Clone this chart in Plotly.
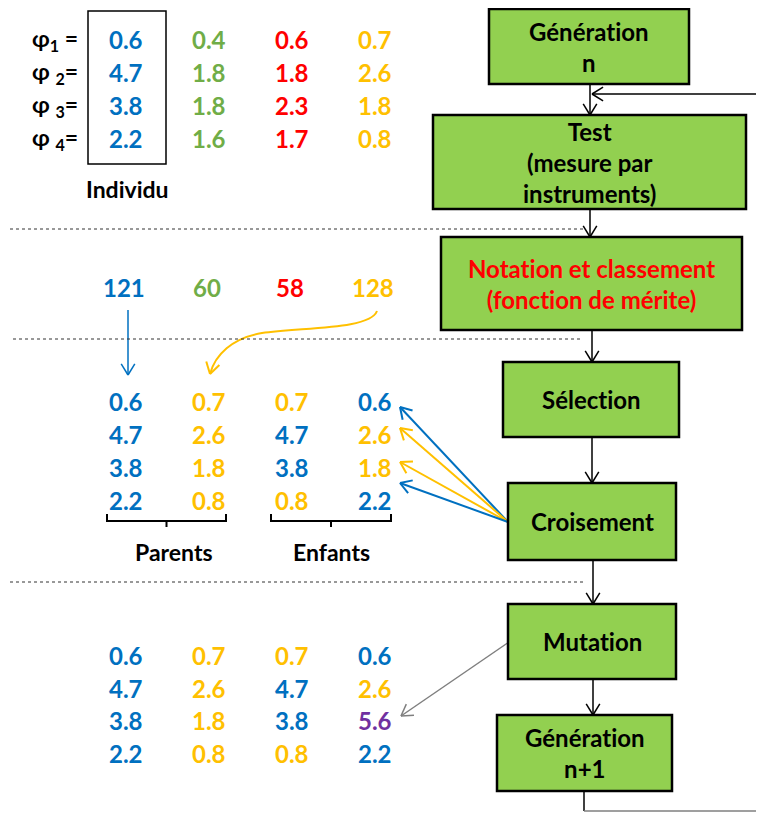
import math
import plotly.graph_objects as go

BLUE   = "#0070C0"
GREEN  = "#70AD47"
RED    = "#FF0000"
YELLOW = "#FFC000"
PURPLE = "#7030A0"
BOX    = "#92D050"
BLACK  = "#000000"
GREY   = "#7F7F7F"
FONT   = "Lato, 'Open Sans', sans-serif"
ZWNJ   = "\u200c"   # stops Lato from joining "ti"

# ── data ──────────────────────────────────────────────────────────────────────
phi_labels = ["φ<sub>1</sub> =", "φ <sub>2</sub>=", "φ <sub>3</sub>=", "φ <sub>4</sub>="]
individus = [
    [0.6, 4.7, 3.8, 2.2],
    [0.4, 1.8, 1.8, 1.6],
    [0.6, 1.8, 2.3, 1.7],
    [0.7, 2.6, 1.8, 0.8],
]
individu_colors = [BLUE, GREEN, RED, YELLOW]
scores = [121, 60, 58, 128]

croisement = [
    [0.6, 4.7, 3.8, 2.2],
    [0.7, 2.6, 1.8, 0.8],
    [0.7, 4.7, 3.8, 0.8],
    [0.6, 2.6, 1.8, 2.2],
]
croisement_colors = [
    [BLUE, BLUE, BLUE, BLUE],
    [YELLOW, YELLOW, YELLOW, YELLOW],
    [YELLOW, BLUE, BLUE, YELLOW],
    [BLUE, YELLOW, YELLOW, BLUE],
]
mutation = [
    [0.6, 4.7, 3.8, 2.2],
    [0.7, 2.6, 1.8, 0.8],
    [0.7, 4.7, 3.8, 0.8],
    [0.6, 2.6, 5.6, 2.2],
]
mutation_colors = [
    [BLUE, BLUE, BLUE, BLUE],
    [YELLOW, YELLOW, YELLOW, YELLOW],
    [YELLOW, BLUE, BLUE, YELLOW],
    [BLUE, YELLOW, PURPLE, BLUE],
]

steps = ["Génération<br>n", "Test<br>(mesure par<br>instruments)",
         "Notation et classement<br>(fonction de mérite)",
         "Sélection", "Croisement", "Mutation", "Génération<br>n+1"]
step_colors = [BLACK, BLACK, RED, BLACK, BLACK, BLACK, BLACK]

# ── layout positions (pixels, y downwards) ───────────────────────────────────
COLS = [126, 209, 292, 375]
ROWS_TOP = [39, 72, 105, 138]
ROWS_MID = [401, 434, 467, 500]
ROWS_BOT = [655, 688, 720, 753]
STEP_BOXES = [(489, 9, 689, 84), (433, 115, 746, 209), (441, 237, 742, 330),
              (503, 362, 679, 437), (508, 483, 676, 560), (508, 604, 676, 679),
              (497, 715, 672, 791)]

fig = go.Figure()


def text(x, y, s, color=BLACK, size=24, anchor="center"):
    fig.add_annotation(x=x, y=y, text=s.replace("ti", "t" + ZWNJ + "i"),
                       showarrow=False, xanchor=anchor, yanchor="middle",
                       font=dict(family=FONT, size=size, color=color, weight="bold"))


def line(x0, y0, x1, y1, color=BLACK, width=1.5, dash=None):
    fig.add_shape(type="line", x0=x0, y0=y0, x1=x1, y1=y1,
                  line=dict(color=color, width=width, dash=dash))


def head(x1, y1, dx, dy, color, width, size=13, spread=0.55):
    ang = math.atan2(dy, dx)
    for s in (-spread, spread):
        a = ang + math.pi + s
        line(x1, y1, x1 + size * math.cos(a), y1 + size * math.sin(a), color, width)


def arrow(x0, y0, x1, y1, color=BLACK, width=1.5, size=13):
    line(x0, y0, x1, y1, color, width)
    head(x1, y1, x1 - x0, y1 - y0, color, width, size)


def column(values, colors, x, rows):
    for v, c, y in zip(values, colors, rows):
        text(x, y, f"{v:.1f}", c)


# ── top: population ──────────────────────────────────────────────────────────
for lab, y in zip(phi_labels, ROWS_TOP):
    text(80, y, lab, BLACK, 23, "right")
for vals, c, x in zip(individus, individu_colors, COLS):
    column(vals, [c] * 4, x, ROWS_TOP)
fig.add_shape(type="rect", x0=88, y0=11, x1=166, y1=164, line=dict(color=BLACK, width=1.5))
text(127, 189, "Individu", BLACK, 23)

line(10, 229, 583, 229, "#333333", 1, "dot")

# ── scores ───────────────────────────────────────────────────────────────────
for s, c, x in zip(scores, individu_colors, COLS):
    text(x - 2, 287, str(s), c, 24)
arrow(128, 310, 128, 375, BLUE, 1.5)
fig.add_shape(type="path",
              path="M 377,311 C 370,330 300,327 262,333 C 232,338 215,355 210,374",
              line=dict(color=YELLOW, width=2))
head(210, 374, -5, 19, YELLOW, 2)

line(13, 339, 583, 339, "#333333", 1, "dot")

# ── crossover ────────────────────────────────────────────────────────────────
for vals, cols, x in zip(croisement, croisement_colors, COLS):
    column(vals, cols, x, ROWS_MID)
for x0, x1 in ((107, 226), (271, 391)):
    fig.add_shape(type="path",
                  path=f"M {x0},514 L {x0},521 L {x1},521 L {x1},514 M {(x0 + x1) / 2},521 L {(x0 + x1) / 2},527",
                  line=dict(color=BLACK, width=2))
text(174, 552, "Parents", BLACK, 23)
text(331, 552, "Enfants", BLACK, 23)
for ty, c in ((407, BLUE), (428, YELLOW), (462, YELLOW), (483, BLUE)):
    arrow(508, 522, 400, ty, c, 2)

line(10, 582, 583, 582, "#333333", 1, "dot")

# ── mutation ─────────────────────────────────────────────────────────────────
for vals, cols, x in zip(mutation, mutation_colors, COLS):
    column(vals, cols, x, ROWS_BOT)
arrow(509, 642, 401, 716, GREY, 1.5)

# ── flow boxes ───────────────────────────────────────────────────────────────
for (x0, y0, x1, y1), s, c in zip(STEP_BOXES, steps, step_colors):
    fig.add_shape(type="rect", x0=x0, y0=y0, x1=x1, y1=y1, fillcolor=BOX,
                  line=dict(color=BLACK, width=2.5))
    text((x0 + x1) / 2, (y0 + y1) / 2, s, c, 24)

for (ax0, ay0, ax1, ay1), (bx0, by0, bx1, by1) in zip(STEP_BOXES[:-1], STEP_BOXES[1:]):
    xm = round((ax0 + ax1) / 2 + 1)
    arrow(xm, ay1, xm, by0, BLACK, 1.5)
arrow(764, 94, 592, 94, BLACK, 1.5)
line(584, 791, 584, 811, BLACK, 1.5)
line(584, 811, 764, 811, GREY, 1.5)

# page body has an 8px margin: shift the ranges so data units = window pixels
fig.update_xaxes(range=[8, 764], visible=False, fixedrange=True)
fig.update_yaxes(range=[813, 8], visible=False, fixedrange=True)
fig.update_layout(width=756, height=805, margin=dict(l=0, r=0, t=0, b=0),
                  paper_bgcolor="white", plot_bgcolor="white", showlegend=False)
fig.write_html("out.html")
